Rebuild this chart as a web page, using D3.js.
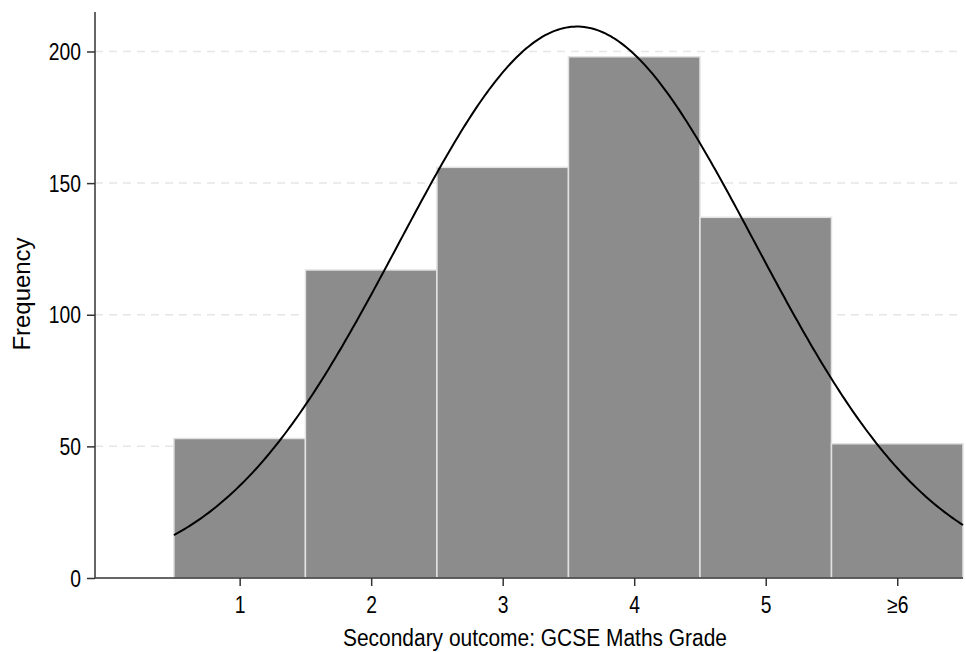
<!DOCTYPE html>
<html>
<head>
<meta charset="utf-8">
<script src="https://cdn.jsdelivr.net/npm/d3@7"></script>
<style>
  body { margin: 0; background: #fff; }
  text { font-family: "Liberation Sans", Arial, sans-serif; fill: #000; }
</style>
</head>
<body>
<div id="chart"></div>
<script>
// histogram bins (grade categories) and counts
const grades = [1, 2, 3, 4, 5, 6];
const gradeLabels = ["1", "2", "3", "4", "5", "\u22656"];
const counts = [53, 117, 156, 198, 137, 51];
const yTicks = [0, 50, 100, 150, 200];

// fitted normal overlay parameters
const fitMean = 3.565;
const fitSd = 1.356;

const width = 966, height = 652;
const squeeze = 0.84; // reference text is horizontally narrow

const svg = d3.select("#chart").append("svg")
  .attr("width", width)
  .attr("height", height);

const x = d3.scaleLinear().domain([-0.1, 6.5]).range([95, 963]);
const y = d3.scaleLinear().domain([0, 215]).range([578, 12]);

// gridlines
svg.append("g")
  .selectAll("line")
  .data(yTicks.filter(d => d > 0))
  .enter()
  .append("line")
  .attr("x1", x(-0.1)).attr("x2", x(6.5))
  .attr("y1", d => y(d)).attr("y2", d => y(d))
  .style("stroke", "#e6e6e6")
  .style("stroke-width", 1.5)
  .style("stroke-dasharray", "8,6");

// bars
svg.append("g")
  .selectAll("rect")
  .data(grades)
  .enter()
  .append("rect")
  .attr("x", (d, i) => x(d - 0.5))
  .attr("width", (d) => x(d + 0.5) - x(d - 0.5))
  .attr("y", (d, i) => y(counts[i]))
  .attr("height", (d, i) => y(0) - y(counts[i]))
  .style("fill", "#8c8c8c")
  .style("stroke", "#e2e2e2")
  .style("stroke-width", 1.5);

// normal density scaled to counts (bin width 1)
const total = d3.sum(counts);
const pts = d3.range(0.5, 6.5001, 0.02).map(v => [v,
  total / (fitSd * Math.sqrt(2 * Math.PI)) * Math.exp(-0.5 * Math.pow((v - fitMean) / fitSd, 2))]);

svg.append("path")
  .datum(pts)
  .attr("d", d3.line().x(d => x(d[0])).y(d => y(d[1])))
  .style("fill", "none")
  .style("stroke", "#000")
  .style("stroke-width", 2);

// y axis
const yAxis = svg.append("g")
  .attr("transform", "translate(95,0)")
  .call(d3.axisLeft(y).tickValues(yTicks).tickSize(8).tickPadding(6));
yAxis.select(".domain").attr("d", "M0," + y(215) + "V" + y(0)).style("stroke", "#333").style("stroke-width", 1.5);
yAxis.selectAll(".tick line").style("stroke", "#333").style("stroke-width", 1.5);
yAxis.selectAll("text")
  .style("font-size", "23px")
  .attr("x", -14 / squeeze)
  .attr("dy", "0.35em")
  .attr("transform", "scale(" + squeeze + ",1)");

// x axis
const xAxis = svg.append("g")
  .attr("transform", "translate(0,578)")
  .call(d3.axisBottom(x).tickValues(grades).tickFormat((d, i) => gradeLabels[i]).tickSize(8).tickPadding(11));
xAxis.select(".domain").attr("d", "M" + x(-0.1) + ",0H" + x(6.5)).style("stroke", "#333").style("stroke-width", 1.5);
xAxis.selectAll(".tick line").style("stroke", "#333").style("stroke-width", 1.5);
xAxis.selectAll("text")
  .style("font-size", "23px")
  .attr("transform", "scale(" + squeeze + ",1)");

// axis titles
svg.append("text")
  .attr("x", 535).attr("y", 646)
  .attr("text-anchor", "middle")
  .attr("textLength", 384)
  .attr("lengthAdjust", "spacingAndGlyphs")
  .style("font-size", "23px")
  .text("Secondary outcome: GCSE Maths Grade");

svg.append("text")
  .attr("transform", "translate(30,294) rotate(-90)")
  .attr("text-anchor", "middle")
  .attr("textLength", 113)
  .attr("lengthAdjust", "spacingAndGlyphs")
  .style("font-size", "23px")
  .text("Frequency");
</script>
</body>
</html>
